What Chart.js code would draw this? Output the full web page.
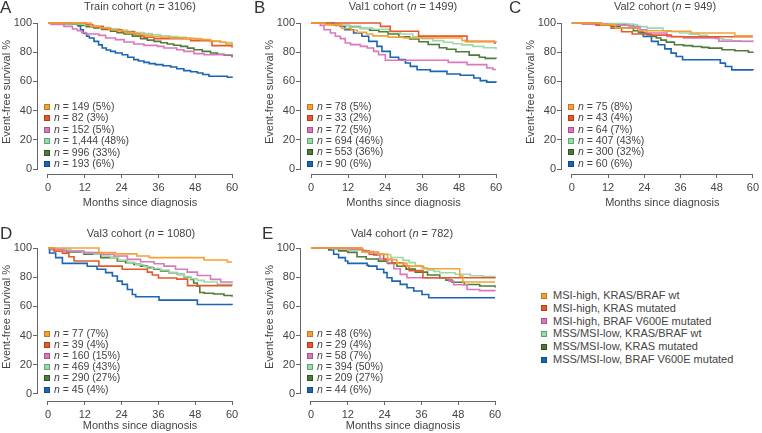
<!DOCTYPE html>
<html>
<head>
<meta charset="utf-8">
<script src="https://cdn.jsdelivr.net/npm/chart.js@4"></script>
<style>
  body { margin: 0; background: #fff; width: 762px; height: 433px; position: relative; overflow: hidden;
         font-family: "Liberation Sans", Arial, sans-serif; color: #444; }
  canvas { position: absolute; }
  .letter { position: absolute; font-size: 17px; line-height: 17px; color: #333; }
  .title { position: absolute; font-size: 11px; line-height: 13px; white-space: nowrap; transform: translateX(-50%); }
  .lg { position: absolute; font-size: 11px; line-height: 13px; white-space: nowrap; }
  .lg span { position: absolute; left: -12px; top: 3.5px; width: 4px; height: 4px; border: 1px solid; }
</style>
</head>
<body>
<script>
// axis ticks
const xTicks = [0, 12, 24, 36, 48, 60];
const yTicks = [0, 10, 20, 30, 40, 50, 60, 70, 80, 90, 100];

// groups
const groupNames = ['MSI-high, KRAS/BRAF wt', 'MSI-high, KRAS mutated', 'MSI-high, BRAF V600E mutated',
  'MSS/MSI-low, KRAS/BRAF wt', 'MSS/MSI-low, KRAS mutated', 'MSS/MSI-low, BRAF V600E mutated'];
const groupColors = ['#f4a236', '#e6592b', '#da77bd', '#9ad9ab', '#4d7c38', '#1b65b3'];
const groupEdges = ['#c47a1c', '#b33d16', '#a9508f', '#5ea572', '#2f5520', '#0f4a8a'];

// cohorts
const cohortNames = ['Train', 'Val1', 'Val2', 'Val3', 'Val4'];
const cohortSizes = [3106, 1499, 949, 1080, 782];
const trainCounts = ['149 (5%)', '82 (3%)', '152 (5%)', '1,444 (48%)', '996 (33%)', '193 (6%)'];
const val1Counts = ['78 (5%)', '33 (2%)', '72 (5%)', '694 (46%)', '553 (36%)', '90 (6%)'];
const val2Counts = ['75 (8%)', '43 (4%)', '64 (7%)', '407 (43%)', '300 (32%)', '60 (6%)'];
const val3Counts = ['77 (7%)', '39 (4%)', '160 (15%)', '469 (43%)', '290 (27%)', '45 (4%)'];
const val4Counts = ['48 (6%)', '29 (4%)', '58 (7%)', '394 (50%)', '209 (27%)', '44 (6%)'];

// survival curves: [month, event-free survival %]
const trainMsiWt = [[0,100],[14,97.8],[17,96.6],[20,95.5],[22.6,94.7],[25,93.6],[27,93.2],[29,92.3],[31.3,91.6],[34,90.8],[36.7,90.2],[40,89.8],[44.3,89.3],[49.8,88.6],[53,87.6],[56.3,87],[58,85.6],[60,84.8]];
const trainMsiKras = [[0,100],[12.5,99],[14.5,97.5],[18,96],[20.4,95.4],[24,94],[28,92.5],[30,91.2],[31.3,90.2],[34.6,89.3],[46.5,87.9],[53,87.4],[53.5,84.5],[60,83.3]];
const trainMsiBraf = [[0,100],[1,99],[5.2,97.7],[8,95.9],[9.6,94.7],[11,93.5],[12.3,92.5],[16.6,91.5],[18.8,89.7],[22,88.6],[24.8,87],[28,85.6],[31.3,84.7],[35.7,84],[37.8,82.9],[42,81.7],[44.3,80.6],[47.6,79],[50.9,78.3],[60,77.9]];
const trainMssWt = [[0,100],[5,99.6],[9.6,99.3],[12,98.6],[15,97.7],[18,96.8],[20.4,96.1],[23,95.2],[25.9,94.3],[28.5,93.5],[31.3,92.7],[34,92],[36.7,91.3],[39.5,90.7],[42.2,90.2],[45,89.6],[47.6,89],[50.3,88.2],[53,87.4],[56,86.6],[60,85.6]];
const trainMssKras = [[0,100],[5.2,99.3],[9.6,98.4],[12.5,97.5],[15,96.6],[17.5,95.5],[20.4,94.3],[22.5,93.4],[24.8,92.5],[27.5,91],[30.2,89.3],[32.4,88.3],[34.6,87.4],[36.8,86.5],[38.9,85.6],[41,84.8],[43.3,84],[45.5,82.8],[47.6,81.7],[50.3,80.6],[53,79.5],[55.2,78.6],[57.4,77.9],[60,76.5]];
const trainMssBraf = [[0,100],[8,99.5],[10,98],[10.6,95.4],[11.5,93],[12.6,90.9],[13.5,89.7],[15,87.4],[16.5,85],[17.7,82.9],[19,81.5],[20.4,80.6],[22,79.5],[24.2,78.3],[26,76.5],[28,74.9],[29.5,74],[31.3,73],[33,72.2],[35,71.5],[37.5,70.7],[40,69.9],[42,68.7],[44.3,67.4],[46.5,66.6],[48.7,65.8],[50.5,64.7],[52.5,63.5],[58.5,62.8],[60,62.3]];

const val1MsiWt = [[0,100],[4.5,98.7],[10,96.2],[13,95],[15,93.6],[18,92.5],[20,91.2],[25,90.3],[30,89.7],[38,89.7],[49,88],[50,87.2],[60,86.5]];
const val1MsiKras = [[0,100],[22.5,97.7],[25.7,94.3],[34.9,91],[50.6,87.4],[59.5,86.3],[60,86.3]];
const val1MsiBraf = [[0,100],[3,98.4],[4.2,95.4],[6.3,93.2],[7.9,90.9],[9.5,89.3],[11.1,86.3],[12.8,85.2],[16,84],[18.2,82.9],[20.3,80.6],[21.9,78.3],[24.1,74.5],[44.5,73],[50.6,71.5],[57,69.2],[59,68.2],[60,68.2]];
const val1MssWt = [[0,100],[6,99.3],[9,98.5],[12.5,97.3],[16,96.5],[20,95.7],[25.4,94],[29,92.5],[33,90.6],[36,89.3],[39.5,87.9],[43,86.8],[46,85.8],[49,85],[52.5,84],[56,83],[60,82]];
const val1MssKras = [[0,100],[5,99],[8,98.3],[12.5,97.5],[16,96.2],[19,95],[22,94],[25,92.5],[28.5,90.6],[32,89],[35,87.2],[38,85.3],[41.6,83],[44,82],[47,80.3],[51.3,78],[54.6,76.5],[56.5,75.8],[60,75.5]];
const val1MssBraf = [[0,100],[7.5,98.6],[9.5,97.7],[11,95.4],[13.8,93.2],[16.5,90.9],[18.7,87.4],[21.4,84],[23,80.6],[25.7,76.5],[28.4,74.9],[30.6,72.6],[32.2,70.3],[34.4,68],[38.7,66.9],[44.1,65.1],[48.4,64.2],[52.8,62.3],[54.9,60.5],[57,59.5],[60,59.2]];

const val2MsiWt = [[0,100],[9.6,98.9],[14.5,96.6],[22,94.7],[31.3,94.3],[39.5,93.1],[54,91.2],[60,91.2]];
const val2MsiKras = [[0,100],[8,98.5],[13,96.5],[16.5,94],[20,92.5],[26,91.7],[33,90.6],[60,90.6]];
const val2MsiBraf = [[0,100],[3.5,99.2],[12,98.5],[19,97.5],[22.6,95.4],[24.8,93.1],[31.5,90.8],[37,89.8],[48.7,87.5],[60,87.3]];
const val2MssWt = [[0,100],[10,99.6],[18.3,98.9],[21.8,97.5],[25,96.5],[30.2,94.7],[33,94],[35.7,93.1],[39,92.4],[42.2,91.5],[45,90.3],[47.6,89.2],[50,88.6],[53,87.8],[56,87.3],[60,86.8]];
const val2MssKras = [[0,100],[9.6,98.9],[13,97.8],[16,96.6],[20.4,94.7],[22.6,93.2],[24.8,92],[26.5,90.8],[28,89.7],[29.5,88.3],[31.3,86.9],[34,85.1],[37,84.5],[40,83.9],[43,83.3],[45.4,82.8],[49.8,81.7],[54,81],[58.5,80],[60,79.4]];
const val2MssBraf = [[0,100],[9.6,99.3],[17.2,98.9],[20.4,96.6],[22,93.8],[23.7,90.8],[26.4,87.4],[28.6,85.1],[30.8,82.3],[32.9,79.4],[34.6,77.1],[36.7,74.8],[49.2,72.5],[50.9,70.2],[53,67.9],[60,67.4]];

const val3MsiWt = [[0,100],[16.6,96.8],[22,96],[29,94.5],[33,93.4],[50.9,91.8],[58.5,90.4],[60,90.4]];
const val3MsiKras = [[0,100],[2,97.8],[4.7,96.5],[6.8,94],[8.5,91.1],[16.6,87.6],[24.2,85.4],[32.4,83.5],[34,81.5],[36,79.5],[42,78.7],[45.5,74.2],[60,74.2]];
const val3MsiBraf = [[0,100],[1,99],[5.2,97.9],[11.7,96.8],[17.2,95.7],[21.5,94.5],[25.9,92.2],[30.2,90.6],[34.6,89.2],[37.8,87.6],[41.6,85.4],[45.4,83.5],[48.7,81.2],[53,78.5],[56.3,76.7],[60,76.2]];
const val3MssWt = [[0,100],[1,99.2],[7.4,97.9],[11,96.8],[15,95.7],[18,94.5],[20.4,93.4],[23,91.7],[25.9,89.9],[28.6,88.5],[31.3,87.2],[34,86],[36.7,84.9],[39.5,83.4],[42.2,81.9],[44.3,80.4],[46.5,78.9],[48.7,77.8],[50.9,76.7],[55.2,75.1],[60,73.9]];
const val3MssKras = [[0,100],[1,99],[6,97.3],[11.7,95.7],[17.2,93.4],[22.6,91.1],[25.3,90],[28,88.8],[30.2,87.6],[32.4,86.5],[34.5,85.4],[36.7,84.2],[39.5,83],[42.2,81.9],[44.3,80.2],[46.5,78.5],[47.5,76],[48.7,73.9],[49.5,69.5],[51,69],[54,68.5],[57.4,67.5],[60,66.6]];
const val3MssBraf = [[0,100],[0.5,96.6],[2.5,93.4],[4.7,89.5],[12.8,87.5],[16,85.4],[18.8,83.1],[21,80.8],[22.6,77.3],[24.2,75.1],[25.9,71.6],[27.5,68.2],[28.6,66.6],[36.2,64.3],[48.7,61.3],[60,61]];

const val4MsiWt = [[0,100],[16.6,97.3],[22,95.7],[25,92],[28,89.5],[31.3,87.6],[36.7,85.8],[48.5,80.8],[49.5,76.7],[60,76.7]];
const val4MsiKras = [[0,100],[16.6,97.9],[19,95.7],[23.7,92.2],[26.4,89.9],[30.2,87.6],[32,84.5],[36.5,79.6],[60,79.2]];
const val4MsiBraf = [[0,100],[9.6,99.5],[12.8,99.1],[17,97.5],[20.4,95],[22.5,92.5],[24.8,89.9],[27,85.8],[29.1,81.9],[31.3,79.6],[42.2,79.6],[45,77.3],[46.5,74.8],[50.9,71.6],[55,70.8],[60,70.5]];
const val4MssWt = [[0,100],[7,99.5],[12,98.5],[18,97],[22,95.5],[26,93.5],[30,91.5],[32,90],[34,88],[36,86.5],[38,85],[40,84],[42,83],[47,82],[52,81],[56,80.5],[60,80.3]];
const val4MssKras = [[0,100],[6,99.5],[9,98],[12,97],[15,94],[18,92.5],[22,91],[25,89.5],[28,87.5],[31,85.5],[34,83.5],[38,81.5],[42,79.5],[44,78],[46,76.5],[50,75],[55,74],[60,73]];
const val4MssBraf = [[0,100],[5.8,98.6],[7.4,95.7],[9,93.4],[11.2,91.1],[12,89.5],[18.3,88.1],[18.8,87.6],[21.5,85.4],[23.7,83.1],[24.8,79.6],[26.4,77.3],[29.1,75.1],[31.3,72.8],[33.5,70.5],[36.2,68.2],[38.4,65.9],[60,65.9]];

const textColor = '#444';
const axisColor = '#666';
const font = '"Liberation Sans", Arial, sans-serif';

const panels = [
  { letter: 'A', counts: trainCounts, series: [trainMsiWt, trainMsiKras, trainMsiBraf, trainMssWt, trainMssKras, trainMssBraf],
    box: [0, 0, 254, 210], axisH: 36, padR: 22, yMin: -3.42, legTop: 84, legStep: 11.4, titleX: 140, titleY: 0, letterX: 0, letterY: -1 },
  { letter: 'B', counts: val1Counts, series: [val1MsiWt, val1MsiKras, val1MsiBraf, val1MssWt, val1MssKras, val1MssBraf],
    box: [263, 0, 254, 210], axisH: 36, padR: 21, yMin: -3.42, legTop: 84, legStep: 11.3, titleX: 403, titleY: 0, letterX: 254, letterY: -1 },
  { letter: 'C', counts: val2Counts, series: [val2MsiWt, val2MsiKras, val2MsiBraf, val2MssWt, val2MssKras, val2MssBraf],
    box: [524, 0, 238, 210], axisH: 36, padR: 6, yMin: -3.42, legTop: 84, legStep: 11.3, titleX: 665, titleY: 0, letterX: 509, letterY: -1 },
  { letter: 'D', counts: val3Counts, series: [val3MsiWt, val3MsiKras, val3MsiBraf, val3MssWt, val3MssKras, val3MssBraf],
    box: [0, 225, 254, 208], axisH: 32, padR: 22, yMin: -4.8, legTop: 86, legStep: 11.1, titleX: 141, titleY: 227, letterX: 0, letterY: 225 },
  { letter: 'E', counts: val4Counts, series: [val4MsiWt, val4MsiKras, val4MsiBraf, val4MssWt, val4MssKras, val4MssBraf],
    box: [263, 225, 254, 208], axisH: 32, padR: 22, yMin: -4.8, legTop: 86, legStep: 11.1, titleX: 402, titleY: 227, letterX: 262, letterY: 225 }
];

// axis lines, axis titles and the n-legend inside each panel
const overlay = {
  id: 'overlay',
  afterDraw(chart, args, o) {
    const { ctx, chartArea: a, scales: { x, y } } = chart;
    ctx.save();
    ctx.strokeStyle = axisColor;
    ctx.lineWidth = 1;
    ctx.beginPath();
    const by = Math.round(a.bottom) + 0.5;
    ctx.moveTo(x.getPixelForValue(xTicks[0]), by);
    ctx.lineTo(x.getPixelForValue(xTicks[xTicks.length - 1]), by);
    const lx = Math.round(a.left) - 0.5;
    ctx.moveTo(lx, y.getPixelForValue(yTicks[0]));
    ctx.lineTo(lx, y.getPixelForValue(yTicks[yTicks.length - 1]));
    ctx.stroke();

    ctx.fillStyle = textColor;
    ctx.font = '11px ' + font;
    ctx.textAlign = 'center';
    ctx.textBaseline = 'middle';
    const midX = (x.getPixelForValue(xTicks[0]) + x.getPixelForValue(xTicks[xTicks.length - 1])) / 2;
    ctx.fillText('Months since diagnosis', midX, chart.height - 7);
    ctx.save();
    ctx.translate(7, (y.getPixelForValue(0) + y.getPixelForValue(100)) / 2 - 4);
    ctx.rotate(-Math.PI / 2);
    ctx.fillText('Event-free survival %', 0, 0);
    ctx.restore();

    ctx.textAlign = 'left';
    chart.data.datasets.forEach((ds, i) => {
      const ry = Math.round(a.top + o.legTop + i * o.legStep);
      const sx = Math.round(a.left) + 6;
      ctx.fillStyle = groupColors[i];
      ctx.fillRect(sx, ry - 3, 6, 6);
      ctx.strokeStyle = groupEdges[i];
      ctx.strokeRect(sx + 0.5, ry - 2.5, 5, 5);
      ctx.fillStyle = textColor;
      ctx.font = 'italic 10.5px ' + font;
      ctx.fillText('n', sx + 10, ry);
      const w = ctx.measureText('n').width;
      ctx.font = '10.5px ' + font;
      ctx.fillText(' = ' + ds.label, sx + 10 + w, ry);
    });
    ctx.restore();
  }
};

panels.forEach((p, k) => {
  const [left, top, w, h] = p.box;
  const canvas = document.createElement('canvas');
  canvas.width = w; canvas.height = h;
  canvas.style.left = left + 'px'; canvas.style.top = top + 'px';
  canvas.style.width = w + 'px'; canvas.style.height = h + 'px';
  document.body.appendChild(canvas);

  const letter = document.createElement('div');
  letter.className = 'letter';
  letter.style.left = p.letterX + 'px'; letter.style.top = p.letterY + 'px';
  letter.textContent = p.letter;
  document.body.appendChild(letter);

  const title = document.createElement('div');
  title.className = 'title';
  title.style.left = p.titleX + 'px'; title.style.top = p.titleY + 'px';
  title.innerHTML = cohortNames[k] + ' cohort (<i>n</i> = ' + cohortSizes[k] + ')';
  document.body.appendChild(title);

  new Chart(canvas, {
    type: 'line',
    data: {
      datasets: p.series.map((s, i) => ({
        label: p.counts[i],
        data: s.map(([t, v]) => ({ x: t, y: v })),
        borderColor: groupColors[i],
        borderWidth: 1.6,
        pointRadius: 0,
        stepped: true,
        fill: false,
        clip: false
      }))
    },
    options: {
      responsive: false,
      animation: false,
      devicePixelRatio: 1,
      layout: { padding: { top: 23, right: p.padR, left: 0, bottom: 0 } },
      scales: {
        x: {
          type: 'linear', min: -3.26, max: 60,
          afterBuildTicks: s => { s.ticks = xTicks.map(v => ({ value: v })); },
          afterFit: s => { s.height = p.axisH; },
          ticks: { color: textColor, font: { size: 11, family: font }, padding: 3, maxRotation: 0 },
          grid: { drawOnChartArea: false, drawTicks: true, tickLength: 4, color: axisColor },
          border: { display: false }
        },
        y: {
          type: 'linear', min: p.yMin, max: 100,
          afterBuildTicks: s => { s.ticks = yTicks.map(v => ({ value: v })); },
          afterFit: s => { s.width = 38; },
          ticks: { color: textColor, font: { size: 11, family: font }, padding: 1 },
          grid: { drawOnChartArea: false, drawTicks: true, tickLength: 5, color: axisColor },
          border: { display: false }
        }
      },
      plugins: {
        legend: { display: false },
        tooltip: { enabled: false },
        overlay: { legTop: p.legTop, legStep: p.legStep }
      }
    },
    plugins: [overlay]
  });
});

// shared group legend
groupNames.forEach((name, i) => {
  const d = document.createElement('div');
  d.className = 'lg';
  d.style.left = '553px';
  d.style.top = (289 + i * 12.8) + 'px';
  d.innerHTML = '<span style="background:' + groupColors[i] + ';border-color:' + groupEdges[i] + '"></span>' + name;
  document.body.appendChild(d);
});
</script>
</body>
</html>
